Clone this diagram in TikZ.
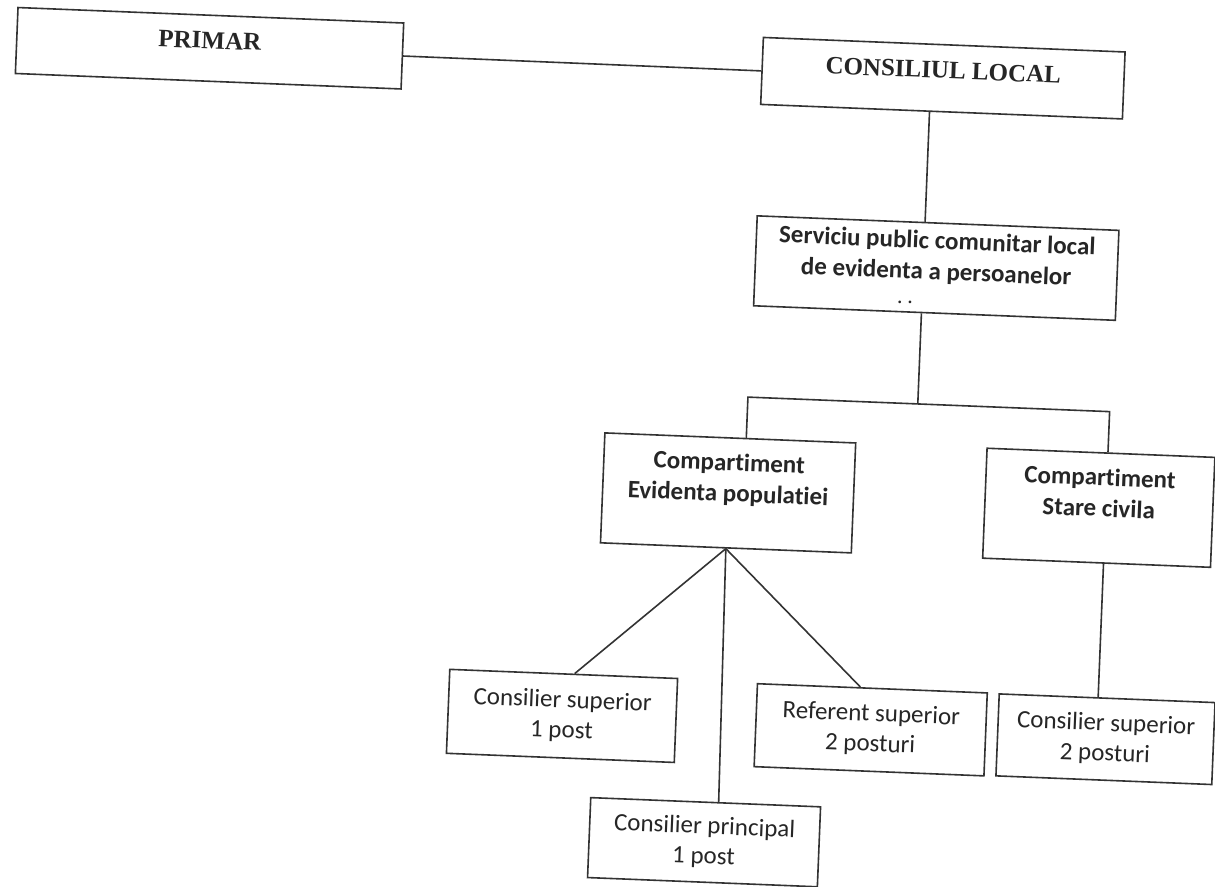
\documentclass[tikz,border=0pt]{standalone}
\usepackage{fontspec}
\setmainfont{Carlito}[Ligatures=NoCommon]
\newfontfamily\tnr{Liberation Serif}

\begin{document}
\begin{tikzpicture}[x=0.5pt,y=-0.5pt,
   box/.style={draw=black!80,line width=0.8pt,text=black!85,align=center,inner sep=0pt,
     font=\fontsize{12.5}{15}\selectfont},
   head/.style={box,font=\tnr\bfseries\fontsize{12.5}{15}\selectfont,text height=8.2pt,text depth=8pt},
   unit/.style={box,font=\bfseries\fontsize{12.5}{15.5}\selectfont},
   post/.style={box},
   link/.style={draw=black!80,line width=0.8pt}]
   \useasboundingbox (0,0) rectangle (1215,887);
   \begin{scope}[rotate around={-2.3:(607,443)},transform shape]
   \node[head,minimum width=193pt,minimum height=33pt] (primar) at (194,64.5) {PRIMAR};
   \node[head,minimum width=181pt,minimum height=33.5pt] (consiliu) at (928,65) {CONSILIUL LOCAL};
   \node[unit,minimum width=181pt,minimum height=45pt] (serviciu) at (929,255)
     {Serviciu public comunitar local\\de evidenta a persoanelor\\[-3pt]{\fontsize{9}{9}\selectfont. .}\hspace*{30pt}};
   \node[unit,minimum width=125.5pt,minimum height=55pt] (evidenta) at (730,488)
     {Compartiment\\Evidenta populatiei\\ \mbox{}};
   \node[unit,minimum width=114pt,minimum height=55pt] (starecivila) at (1101,488)
     {Compartiment\\Stare civila\\ \mbox{}};
   \node[post,minimum width=114pt,minimum height=42pt] (cs1) at (573,717.5) {Consilier superior\\1 post};
   \node[post,minimum width=115pt,minimum height=41.5pt] (referent) at (882,719) {Referent superior\\2 posturi};
   \node[post,minimum width=108pt,minimum height=41pt] (cs2) at (1117,719) {Consilier superior\\2 posturi};
   \node[post,minimum width=115pt,minimum height=40pt] (cprincipal) at (720,838) {Consilier principal\\1 post};
   \coordinate (fork) at (916,391.5);
   \coordinate (forkl) at (746,391.5);
   \coordinate (forkr) at (1108,391.5);
   \draw[link] (primar.east) -- (consiliu.west);
   \draw[link] (consiliu.south -| fork) -- (serviciu.north -| fork);
   \draw[link] (serviciu.south -| fork) -- (fork);
   \draw[link] (evidenta.north -| forkl) |- (forkr) -- (starecivila.north -| forkr);
   \draw[link] (evidenta.south) -- ([xshift=5.5pt]cs1.north);
   \draw[link] (evidenta.south) -- ([xshift=6.5pt]cprincipal.north);
   \draw[link] (evidenta.south) -- ([xshift=-6pt]referent.north);
   \draw[link] (starecivila.south -| forkr) -- (cs2.north -| forkr);
   \end{scope}
\end{tikzpicture}
\end{document}
